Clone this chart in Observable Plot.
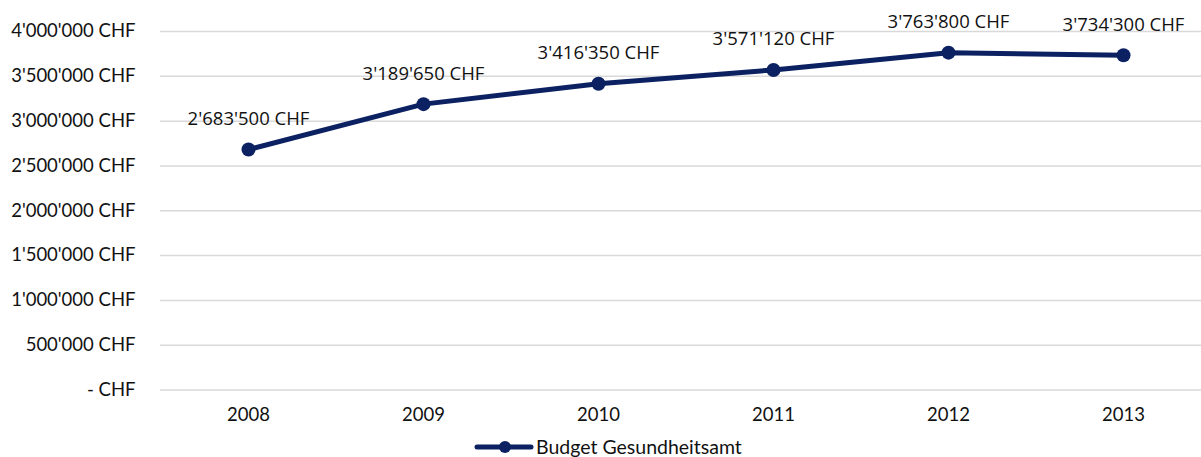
<!DOCTYPE html>
<html>
<head>
<meta charset="utf-8">
<script src="https://cdn.jsdelivr.net/npm/d3@7"></script>
<script src="https://cdn.jsdelivr.net/npm/@observablehq/plot@0.6"></script>
<style>
  html, body { margin: 0; padding: 0; background: #fff; overflow: hidden; }
  #legend { position: absolute; left: 0; top: 0; width: 1201px; height: 457px; pointer-events: none; }
  #legend .item { position: absolute; left: 474px; top: 435px; display: flex; align-items: center; font-family: Lato, sans-serif; font-size: 19.5px; color: #111; }
</style>
</head>
<body>
<div id="chart"></div>
<div id="legend"><div class="item"><svg width="60" height="22"><line x1="3" x2="57" y1="11" y2="11" stroke="#0b2161" stroke-width="5" stroke-linecap="round"/><circle cx="31" cy="11" r="6" fill="#0b2161"/></svg><span style="margin-left:2px">Budget Gesundheitsamt</span></div></div>
<script>
const years = ["2008", "2009", "2010", "2011", "2012", "2013"];
const budget = [2683500, 3189650, 3416350, 3571120, 3763800, 3734300];
const yTicks = [0, 500000, 1000000, 1500000, 2000000, 2500000, 3000000, 3500000, 4000000];
const seriesName = "Budget Gesundheitsamt";

const locale = d3.formatLocale({decimal: ".", thousands: "'", grouping: [3], currency: ["", ""]});
const fmt = locale.format(",.0f");
const chf = v => v === 0 ? "- CHF" : fmt(v) + " CHF";

const data = years.map((y, i) => ({year: y, value: budget[i]}));
const color = "#0b2161";

const W = 1201, H = 432;
const plot = Plot.plot({
  width: W,
  height: H,
  marginLeft: 160,
  marginRight: 0,
  marginTop: 31,
  marginBottom: H - 389.5,
  style: {fontFamily: "Lato, sans-serif", fontSize: "18px", color: "#111", background: "#fff"},
  x: {type: "point", domain: years, range: [247, 1123.5], padding: 0, label: null},
  y: {domain: [0, 4000000], label: null},
  marks: [
    Plot.ruleY(yTicks, {stroke: "#d9d9d9", strokeWidth: 1.5}),
    Plot.axisY(yTicks, {tickSize: 0, tickPadding: 25, tickFormat: chf, fontSize: 18.5, label: null}),
    Plot.axisX(years, {tickSize: 0, tickPadding: 18, fontSize: 18.5, label: null}),
    Plot.line(data, {x: "year", y: "value", stroke: color, strokeWidth: 5}),
    Plot.dot(data, {x: "year", y: "value", r: 7, fill: color}),
    Plot.text(data, {x: "year", y: "value", text: d => chf(d.value), dy: -30.5, fontFamily: "Open Sans, sans-serif", fontSize: 18.5, fill: "#111"})
  ]
});
document.getElementById("chart").appendChild(plot);
</script>
</body>
</html>
